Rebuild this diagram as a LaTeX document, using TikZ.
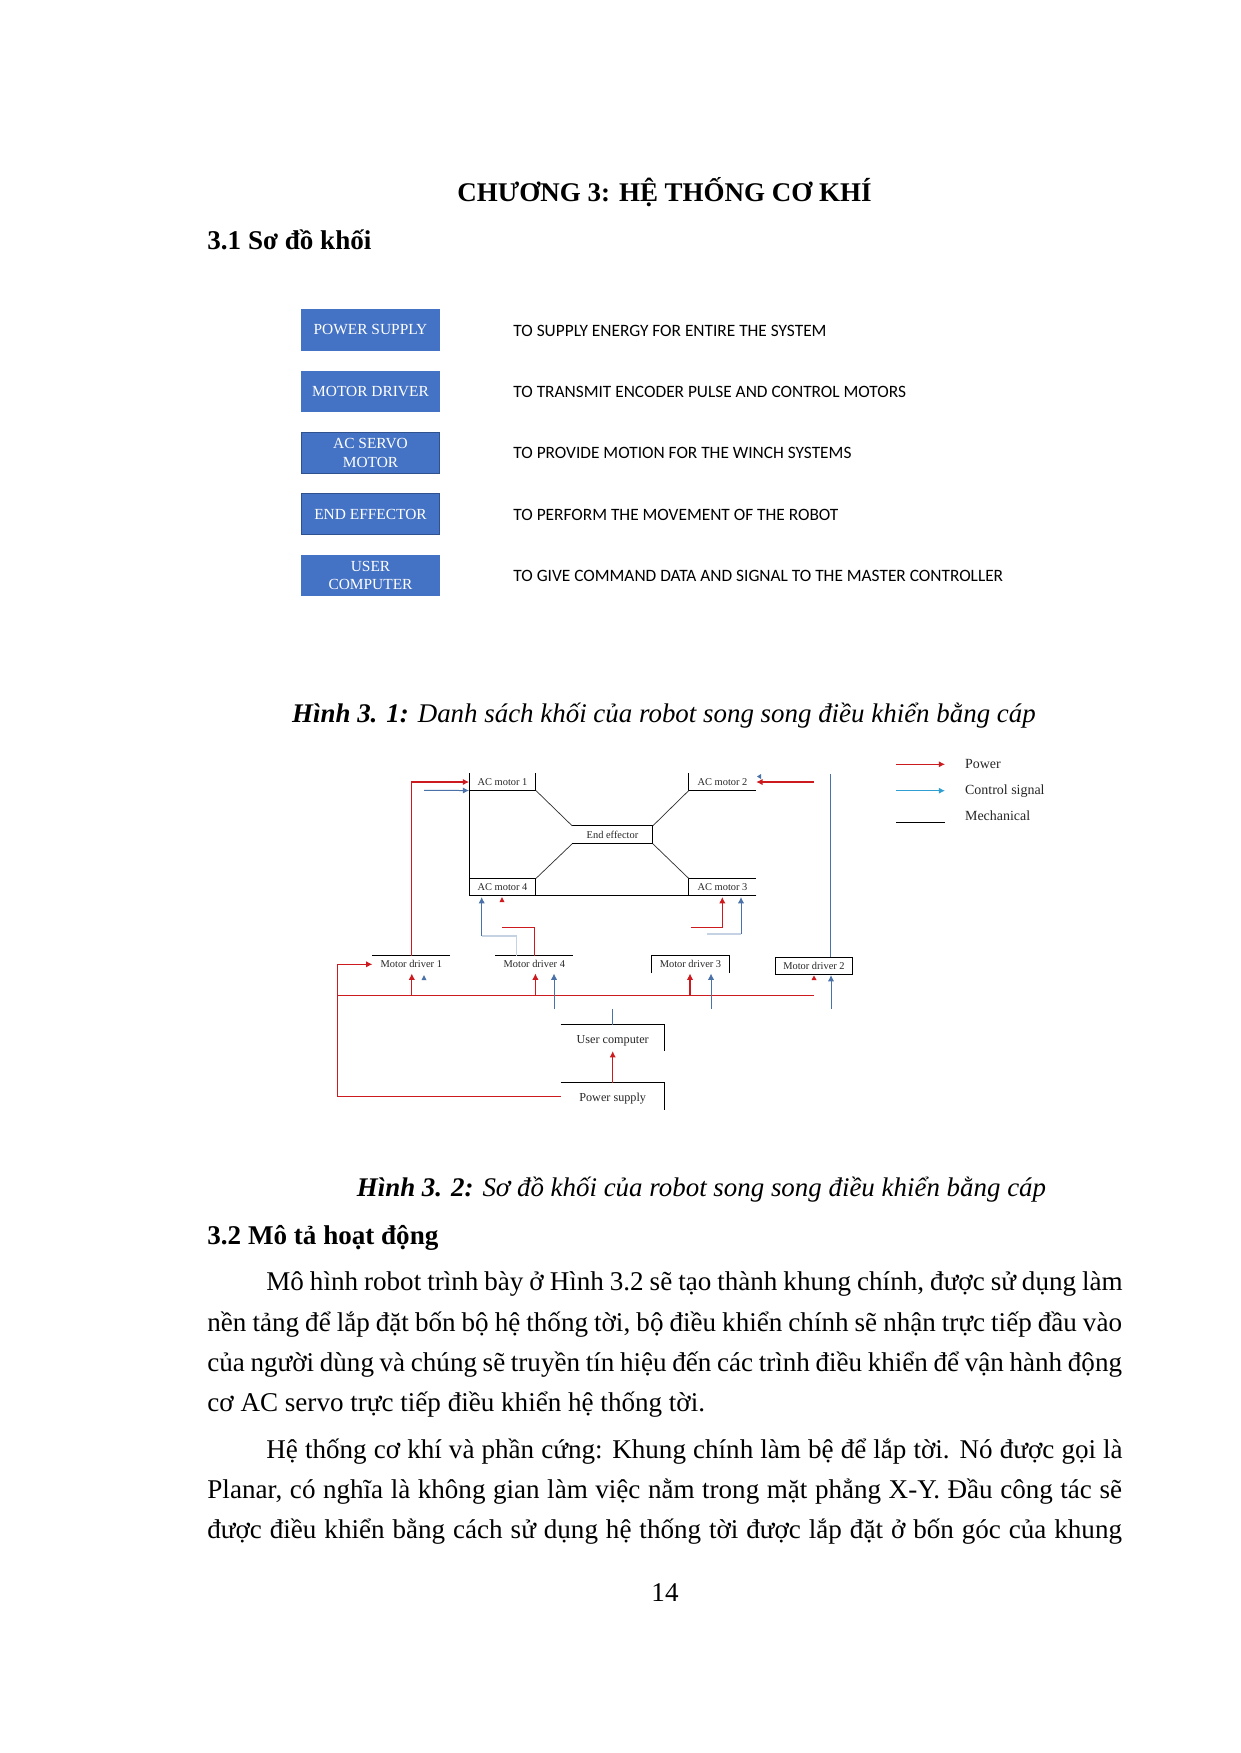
\documentclass[tikz,border=0pt]{standalone}
\usepackage{fontspec}
\setmainfont{Liberation Serif}
\newfontfamily\calib{Carlito}
\usetikzlibrary{arrows.meta,calc}
\definecolor{boxblue}{HTML}{4472C4}
\definecolor{boxedge}{HTML}{2F528F}
\definecolor{pwr}{HTML}{CC1A1E}
\definecolor{ctl}{HTML}{4A72A8}
\definecolor{ctlpale}{HTML}{C4D2E4}
\definecolor{legblue}{HTML}{2E9FD0}
\tikzset{
 blockbox/.style={rectangle,fill=boxblue,draw=boxblue,line width=.5pt,text=white,align=center,inner sep=0pt,
   minimum width=66.6pt,minimum height=19.6pt,font=\fontsize{7.4}{9}\selectfont},
 darkedge/.style={draw=boxedge},
 desc/.style={anchor=west,inner sep=0pt,font=\calib\fontsize{8.32}{10}\selectfont},
 partbox/.style={rectangle,inner sep=0pt,font=\fontsize{5}{6}\selectfont,text=black!85},
 bigpart/.style={font=\fontsize{5.85}{7}\selectfont},
 mech/.style={black,line width=.48pt},
 thin mech/.style={black!80,line width=.35pt},
 pline/.style={pwr,line width=.5pt},
 cline/.style={ctl,line width=.48pt},
 paleline/.style={ctlpale,line width=.5pt},
 ptip/.style={pline,-{Latex[length=3pt,width=3pt]}},
 ctip/.style={cline,-{Latex[length=3pt,width=3pt]}},
 bodyline/.style={anchor=base west,inner sep=0pt,font=\fontsize{13}{15}\selectfont},
 heading/.style={anchor=base west,inner sep=0pt,font=\fontsize{13}{15}\selectfont\bfseries},
 captionline/.style={anchor=base,inner sep=0pt,font=\fontsize{12.92}{15}\selectfont\itshape},
 legendtext/.style={anchor=west,inner sep=0pt,font=\fontsize{6.7}{8}\selectfont,text=black!85},
}
\begin{document}
\begin{tikzpicture}[x=.48pt,y=-.48pt]
\useasboundingbox (0,0) rectangle (1241,1753);
% Page text
\node[anchor=base,inner sep=0pt,font=\fontsize{12.95}{16}\selectfont\bfseries] (title) at (664.5,201.5) {CHƯƠNG 3: HỆ THỐNG CƠ KHÍ};
\node[heading] (h31) at (207,249) {3.1 Sơ đồ khối};
\node[captionline] (cap1) at (664,722) {\textbf{Hình 3. 1:} Danh sách khối của robot song song điều khiển bằng cáp};
\node[captionline] (cap2) at (701.5,1196) {\textbf{Hình 3. 2:} Sơ đồ khối của robot song song điều khiển bằng cáp};
\node[heading] (h32) at (207,1244) {3.2 Mô tả hoạt động};
\node[bodyline] (b1) at (266,1290) {\makebox[411pt][s]{Mô hình robot trình bày ở Hình 3.2 sẽ tạo thành khung chính, được sử dụng làm}};
\node[bodyline] (b2) at (207,1331) {\makebox[439pt][s]{nền tảng để lắp đặt bốn bộ hệ thống tời, bộ điều khiển chính sẽ nhận trực tiếp đầu vào}};
\node[bodyline] (b3) at (207,1371) {\makebox[439pt][s]{của người dùng và chúng sẽ truyền tín hiệu đến các trình điều khiển để vận hành động}};
\node[bodyline] (b4) at (207,1411) {cơ AC servo trực tiếp điều khiển hệ thống tời.};
\node[bodyline] (b5) at (266,1458) {\makebox[411pt][s]{Hệ thống cơ khí và phần cứng: Khung chính làm bệ để lắp tời. Nó được gọi là}};
\node[bodyline] (b6) at (207,1498) {\makebox[439pt][s]{Planar, có nghĩa là không gian làm việc nằm trong mặt phẳng X-Y. Đầu công tác sẽ}};
\node[bodyline] (b7) at (207,1538) {\makebox[439pt][s]{được điều khiển bằng cách sử dụng hệ thống tời được lắp đặt ở bốn góc của khung}};
\node[anchor=base,inner sep=0pt,font=\fontsize{13}{15}\selectfont] (pg) at (665,1601) {14};
% Figure 3.1
\node[blockbox] (s1) at (370.5,330) {POWER SUPPLY};
\node[blockbox] (s2) at (370.5,391.5) {MOTOR DRIVER};
\node[blockbox,darkedge] (s3) at (370.5,453) {AC SERVO\\MOTOR};
\node[blockbox,darkedge] (s4) at (370.5,514) {END EFFECTOR};
\node[blockbox] (s5) at (370.5,575.5) {USER\\COMPUTER};
\node[desc] (d1) at (513,331) {TO SUPPLY ENERGY FOR ENTIRE THE SYSTEM};
\node[desc] (d2) at (513,392) {TO TRANSMIT ENCODER PULSE AND CONTROL MOTORS};
\node[desc] (d3) at (513,452.5) {TO PROVIDE MOTION FOR THE WINCH SYSTEMS};
\node[desc] (d4) at (513,515) {TO PERFORM THE MOVEMENT OF THE ROBOT};
\node[desc] (d5) at (513,576) {TO GIVE COMMAND DATA AND SIGNAL TO THE MASTER CONTROLLER};
% Figure 3.2 parts
\node[partbox,minimum width=31.7pt,minimum height=7.8pt] (m1) at (502.5,782) {AC motor 1};
\node[partbox,minimum width=32pt,minimum height=7.8pt] (m2) at (722.5,782) {AC motor 2};
\node[partbox,minimum width=32pt,minimum height=7.8pt] (m3) at (722.5,887) {AC motor 3};
\node[partbox,minimum width=31.7pt,minimum height=7.8pt] (m4) at (502.5,887) {AC motor 4};
\node[partbox,minimum width=38.3pt,minimum height=8.2pt] (ee) at (612.5,834.8) {End effector};
\node[partbox,minimum width=37pt,minimum height=8pt] (d1n) at (411.3,964.3) {Motor driver 1};
\node[partbox,minimum width=37pt,minimum height=8pt] (d4n) at (534.3,964.3) {Motor driver 4};
\node[partbox,minimum width=37pt,minimum height=8pt] (d3n) at (690.5,964.3) {Motor driver 3};
\node[partbox,minimum width=37pt,minimum height=8pt] (d2n) at (814,965.8) {Motor driver 2};
\node[partbox,bigpart,minimum width=49.7pt,minimum height=12.2pt] (uc) at (612.7,1038) {\rule{0pt}{6.4pt}User computer};
\node[partbox,bigpart,minimum width=49.7pt,minimum height=12.7pt] (ps) at (612.7,1096.5) {\rule{0pt}{6.4pt}Power supply};
% Mechanical outlines
\draw[mech] (m1.north west)--(m1.south west)--(m1.south east)--(m1.north east);
\draw[mech] (m2.north west)--(m2.south west)--(m2.south east);
\draw[mech] (m3.south east)--(m3.south west)--(m3.north west)--(m3.north east);
\draw[mech] (m4.north east)--(m4.north west)--(m4.south west)--(m4.south east)--cycle;
\draw[mech] (m1.south west)--(m4.north west);
\draw[mech] (m4.south east)--(m3.south west);
\draw[mech] (ee.north west)--(ee.north east)--(ee.south east)--(ee.south west);
\draw[thin mech] (m1.south east)--(ee.north west);
\draw[thin mech] (m2.south west)--(ee.north east);
\draw[thin mech] (m4.north east)--(ee.south west);
\draw[thin mech] (m3.north west)--(ee.south east);
\draw[mech] (d1n.north west)--(d1n.north east);
\draw[mech] (d4n.north west)--(d4n.north east);
\draw[mech] (d3n.south west)--(d3n.north west)--(d3n.north east)--(d3n.south east);
\draw[mech] (d2n.north west) rectangle (d2n.south east);
\draw[mech] (uc.north west)--(uc.north east)--(uc.south east);
\draw[mech] (ps.north west)--(ps.north east)--(ps.south east);
% Free ends
\coordinate (busL) at (337.6,995.3);
\coordinate (busR) at (814,995.3);
\coordinate (m1blue) at (424,790.3);
\coordinate (m2red) at (814,782);
\coordinate (m4b1) at (481.7,936);
\coordinate (m4b2) at (516.7,936);
\coordinate (m4bt) at (481.7,897);
\coordinate (m4r1) at (502,927.3);
\coordinate (m4r2) at (534.3,927.3);
\coordinate (m3r0) at (691,927.3);
\coordinate (m3r1) at (722.3,927.3);
\coordinate (m3rt) at (722.3,897);
\coordinate (m3b0) at (707,934);
\coordinate (m3b1) at (741,934);
\coordinate (m3bt) at (741,897);
\coordinate (d4b) at (554,1009);
\coordinate (d3b) at (711,1009);
\coordinate (d2b) at (831,1009);
\coordinate (uct) at (612.7,1009);
% Red connectors
\draw[ptip] (d1n.north) |- (m1.west);
\draw[ptip] (m2red)--(m2.east);
\draw[ptip] (m3r0)--(m3r1)--(m3rt);
\draw[pline] (m4r1)--(m4r2)--(d4n.north);
\draw[pline] (busL)--(busR);
\draw[ptip] (busL) -- (busL |- d1n.west) -- (d1n.west);
\draw[pline] (busL)--(ps.west -| busL)--(ps.west);
\draw[ptip] (411.8,995.3)--(411.8,973.5);
\draw[ptip] (535.4,995.3)--(535.4,973.5);
\draw[ptip] (690,995.3)--(690,973.5);
\draw[ptip] (ps.north)--(uc.south);
% Blue connectors
\draw[ctip] (m1blue)--(m1.south west);
\draw[cline] (830.3,774)--(830.3,957.3);
\draw[ctip] (m4b1)--(m4bt);
\draw[paleline] (m4b1)--(m4b2)--(516.7,956);
\draw[paleline] (m3b0)--(m3b1);
\draw[ctip] (m3b1)--(m3bt);
\draw[ctip] (d4b)--(554,973.5);
\draw[ctip] (d3b)--(711,973.5);
\draw[ctip] (d2b)--(831,975);
\draw[cline] (uct)--(uc.north);
% Stray arrowheads
\fill[pwr] (502,897)--(499.5,902)--(504.5,902)--cycle;
\fill[pwr] (814,975.5)--(811.5,980)--(816.5,980)--cycle;
\fill[ctl] (424,975)--(421.5,980)--(426.5,980)--cycle;
\fill[ctl] (757,776.5)--(761,774)--(761,779)--cycle;
% Legend
\coordinate (lg1a) at (896,764.3); \coordinate (lg1b) at (945,764.3);
\coordinate (lg2a) at (896,790.7); \coordinate (lg2b) at (945,790.7);
\coordinate (lg3a) at (896,822); \coordinate (lg3b) at (945,822);
\draw[ptip] (lg1a)--(lg1b);
\draw[legblue,line width=.5pt,-{Latex[length=3pt,width=3pt]}] (lg2a)--(lg2b);
\draw[mech] (lg3a)--(lg3b);
\node[legendtext] (l1) at (964.7,763.5) {Power};
\node[legendtext] (l2) at (964.7,791.5) {Control signal};
\node[legendtext] (l3) at (964.7,815.5) {Mechanical};
\end{tikzpicture}
\end{document}
